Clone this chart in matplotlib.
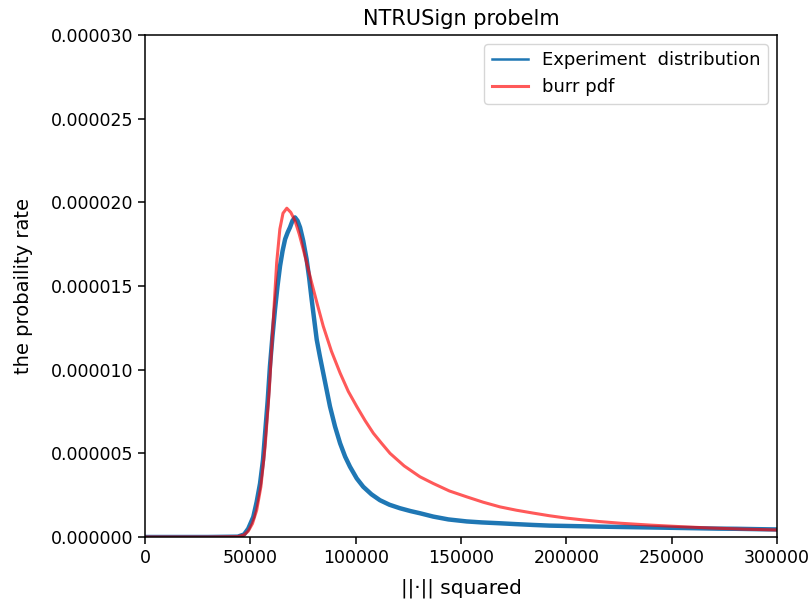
import matplotlib
matplotlib.use("Agg")
import matplotlib.pyplot as plt

# experiment distribution
exp_x = [0, 30000, 44000, 47000, 49000, 51400, 53000, 54600, 56000, 57000, 58200,
         59300, 60500, 61700, 62900, 64100, 65300, 66500, 67700, 68800, 70000,
         71200, 72400, 73600, 75100, 76700, 77900, 79100, 80300, 81500, 83000,
         84600, 86200, 87800, 90200, 92600, 95000, 97300, 100500, 103600, 107500,
         111500, 116000, 121000, 126000, 130500, 136800, 144000, 152700, 160000,
         168500, 176000, 184200, 192000, 200000, 208000, 216000, 225000, 235000,
         245000, 254000, 263000, 272000, 281000, 290000, 300000]
exp_y = [0, 0, 0.02e-6, 0.15e-6, 0.5e-6, 1.2e-6, 2.1e-6, 3.2e-6, 4.6e-6, 6.2e-6,
         8.1e-6, 10.2e-6, 12.0e-6, 13.6e-6, 15.0e-6, 16.2e-6, 17.1e-6, 17.8e-6,
         18.2e-6, 18.5e-6, 18.9e-6, 19.1e-6, 18.9e-6, 18.5e-6, 17.7e-6, 16.6e-6,
         15.5e-6, 14.2e-6, 13.0e-6, 11.8e-6, 10.8e-6, 9.8e-6, 8.8e-6, 7.8e-6,
         6.6e-6, 5.6e-6, 4.8e-6, 4.2e-6, 3.5e-6, 3.0e-6, 2.55e-6, 2.2e-6, 1.93e-6,
         1.72e-6, 1.55e-6, 1.42e-6, 1.22e-6, 1.05e-6, 0.93e-6, 0.87e-6, 0.82e-6,
         0.77e-6, 0.72e-6, 0.68e-6, 0.66e-6, 0.64e-6, 0.62e-6, 0.6e-6, 0.58e-6,
         0.56e-6, 0.54e-6, 0.52e-6, 0.5e-6, 0.49e-6, 0.47e-6, 0.45e-6]

# burr pdf fit
burr_x = [0, 30000, 44000, 47000, 49000, 51000, 53000, 55000, 57000, 59000, 60900,
          62500, 64000, 65500, 67300, 69200, 71200, 73200, 75100, 77100, 79100,
          81800, 84600, 88500, 92600, 96500, 100500, 104500, 108400, 112300,
          116300, 123000, 130500, 136800, 144500, 152700, 160500, 168500, 176300,
          184200, 192000, 200000, 208000, 216000, 226000, 240000, 254000, 268000,
          284000, 300000]
burr_y = [0, 0, 0.02e-6, 0.12e-6, 0.35e-6, 0.8e-6, 1.6e-6, 3.0e-6, 5.4e-6, 8.8e-6,
          13.0e-6, 16.4e-6, 18.4e-6, 19.35e-6, 19.65e-6, 19.4e-6, 18.9e-6,
          18.1e-6, 17.2e-6, 16.2e-6, 15.2e-6, 13.9e-6, 12.6e-6, 11.1e-6, 9.8e-6,
          8.7e-6, 7.8e-6, 6.95e-6, 6.2e-6, 5.6e-6, 5.0e-6, 4.25e-6, 3.6e-6,
          3.2e-6, 2.75e-6, 2.4e-6, 2.08e-6, 1.8e-6, 1.6e-6, 1.43e-6, 1.27e-6,
          1.13e-6, 1.02e-6, 0.92e-6, 0.82e-6, 0.71e-6, 0.62e-6, 0.54e-6, 0.47e-6,
          0.42e-6]

yticks = [0, 0.000005, 0.00001, 0.000015, 0.00002, 0.000025, 0.00003]
ytick_labels = ["0.000000", "0.000005", "0.000010", "0.000015",
                "0.000020", "0.000025", "0.000030"]

fig = plt.figure(figsize=(8.12, 6.05), dpi=100)
ax = fig.add_axes([0.1786, 0.1124, 0.7783, 0.8297])

ax.plot(exp_x, exp_y, color="#1f77b4", lw=3.2, label="Experiment  distribution")
ax.plot(burr_x, burr_y, color="red", lw=2.2, alpha=0.65, label="burr pdf")

ax.set_xlim(0, 300000)
ax.set_ylim(0, 0.00003)
ax.set_yticks(yticks)
ax.set_yticklabels(ytick_labels)
ax.tick_params(labelsize=12.5, length=5, width=1.1)
for s in ax.spines.values():
    s.set_linewidth(1.1)

ax.set_title("NTRUSign probelm", fontsize=15, pad=7)
ax.set_xlabel("||·|| squared", fontsize=14.5)
ax.set_ylabel("the probaility rate", fontsize=14)
ax.xaxis.set_label_coords(0.5, -0.083)
ax.yaxis.set_label_coords(-0.177, 0.5)

leg = ax.legend(loc="upper right", fontsize=13)
leg.get_lines()[0].set_linewidth(1.8)
leg.get_lines()[1].set_linewidth(2.2)

plt.savefig("out.png", dpi=100)
plt.close()
